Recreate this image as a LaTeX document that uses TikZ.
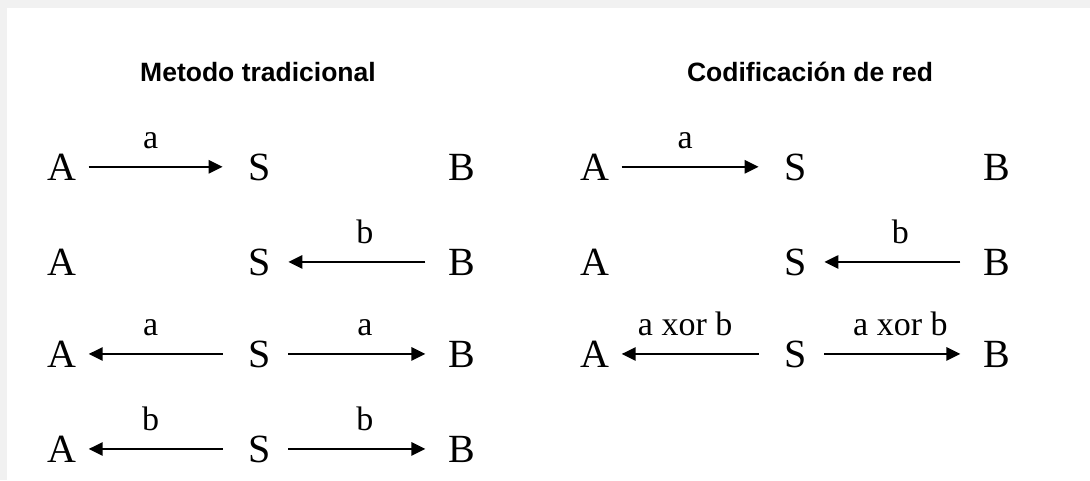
\documentclass[tikz,border=0pt]{standalone}
\usepackage{fontspec}
\setmainfont{Liberation Serif}
\newfontfamily\titlefont{Liberation Sans}
\usetikzlibrary{arrows.meta}
\definecolor{bordergray}{HTML}{F1F1F1}
\begin{document}
\begin{tikzpicture}[x=1pt,y=-1pt,
  letter/.style={inner sep=0pt, anchor=base, font=\fontsize{40}{40}\selectfont},
  ttl/.style={inner sep=0pt, anchor=base, font=\titlefont\bfseries\fontsize{26.5}{30}\selectfont},
  arr/.style={-{Triangle[length=14pt,width=13pt]}, line width=2.6pt},
  lbl/.style={inner sep=0pt, anchor=base, yshift=18pt, font=\fontsize{34}{34}\selectfont},
  lblL/.style={lbl, xshift=-12pt},
  lblR/.style={lbl, xshift=5pt}]
\useasboundingbox (0,0) rectangle (1090,480);
\fill[bordergray] (0,0) rectangle (1090,480);
\fill[white] (7,8) rectangle (1090,480);

% titles
\node[ttl] (t1) at (258,81) {Metodo tradicional};
\node[ttl] (t2) at (810,81) {Codificación de red};

% left panel
\foreach \r/\y in {1/180,2/275,3/367,4/462}{
  \node[letter] (LA\r) at (62,\y) {A};
  \node[letter] (LS\r) at (260,\y) {S};
  \node[letter] (LB\r) at (462,\y) {B};
}
% right panel
\foreach \r/\y in {1/180,2/275,3/367}{
  \node[letter] (RA\r) at (595,\y) {A};
  \node[letter] (RS\r) at (796,\y) {S};
  \node[letter] (RB\r) at (997,\y) {B};
}

% left panel arrows
\draw[arr, shorten <=12pt, shorten >=26pt] (LA1.east) -- node[lblL]{a} (LA1.east -| LS1.west);
\draw[arr, shorten <=23pt, shorten >=17pt] (LB2.west) -- node[lblR]{b} (LB2.west -| LS2.east);
\draw[arr, shorten <=26pt, shorten >=12pt] (LS3.west) -- node[lblL]{a} (LS3.west -| LA3.east);
\draw[arr, shorten <=17pt, shorten >=23pt] (LS3.east) -- node[lblR]{a} (LS3.east -| LB3.west);
\draw[arr, shorten <=26pt, shorten >=12pt] (LS4.west) -- node[lblL]{b} (LS4.west -| LA4.east);
\draw[arr, shorten <=17pt, shorten >=23pt] (LS4.east) -- node[lblR]{b} (LS4.east -| LB4.west);

% right panel arrows
\draw[arr, shorten <=12pt, shorten >=26pt] (RA1.east) -- node[lblL]{a} (RA1.east -| RS1.west);
\draw[arr, shorten <=23pt, shorten >=17pt] (RB2.west) -- node[lblR]{b} (RB2.west -| RS2.east);
\draw[arr, shorten <=26pt, shorten >=12pt] (RS3.west) -- node[lblL]{a xor b} (RS3.west -| RA3.east);
\draw[arr, shorten <=17pt, shorten >=23pt] (RS3.east) -- node[lblR]{a xor b} (RS3.east -| RB3.west);
\end{tikzpicture}
\end{document}
